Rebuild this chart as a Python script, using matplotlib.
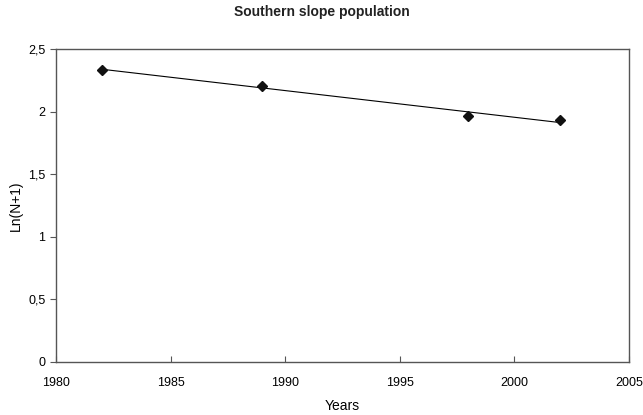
import numpy as np
import matplotlib
matplotlib.use('Agg')
import matplotlib.pyplot as plt
from matplotlib.ticker import FuncFormatter, MultipleLocator

plt.rcParams['font.family'] = ['Liberation Sans', 'DejaVu Sans']

years = [1982, 1989, 1998, 2002]
ln_n = [2.334, 2.205, 1.965, 1.932]

fig = plt.figure(figsize=(6.43, 4.15), dpi=100)
ax = fig.add_axes([0.087, 0.128, 0.891, 0.754])

# linear trend line over the data range
slope, icpt = np.polyfit(years, ln_n, 1)
fit_x = np.array([years[0], years[-1]])
ax.plot(fit_x, slope*fit_x+icpt, color='black', lw=0.8)
ax.plot(years, ln_n, 'D', color='#111111', markersize=5, zorder=3)

ax.set_xlim(1980, 2005)
ax.set_ylim(0, 2.5)
ax.xaxis.set_major_locator(MultipleLocator(5))
ax.yaxis.set_major_locator(MultipleLocator(0.5))
ax.yaxis.set_major_formatter(FuncFormatter(
    lambda v, _: ('%g' % v).replace('.', ',')))
ax.tick_params(axis='x', direction='in', length=4, color='#555555',
               labelsize=9, pad=11)
ax.tick_params(axis='y', direction='out', length=4, color='#555555',
               labelsize=9)
for sp in ax.spines.values():
    sp.set_color('#555555')
    sp.set_linewidth(1.0)

ax.set_xlabel('Years', fontsize=10, labelpad=7)
ax.set_ylabel('Ln(N+1)', fontsize=10, labelpad=4)
fig.text(0.5, 0.97, 'Southern slope population', ha='center', va='center',
         fontsize=10, fontweight='bold', color='#222222')

fig.savefig('out.png', dpi=100)
